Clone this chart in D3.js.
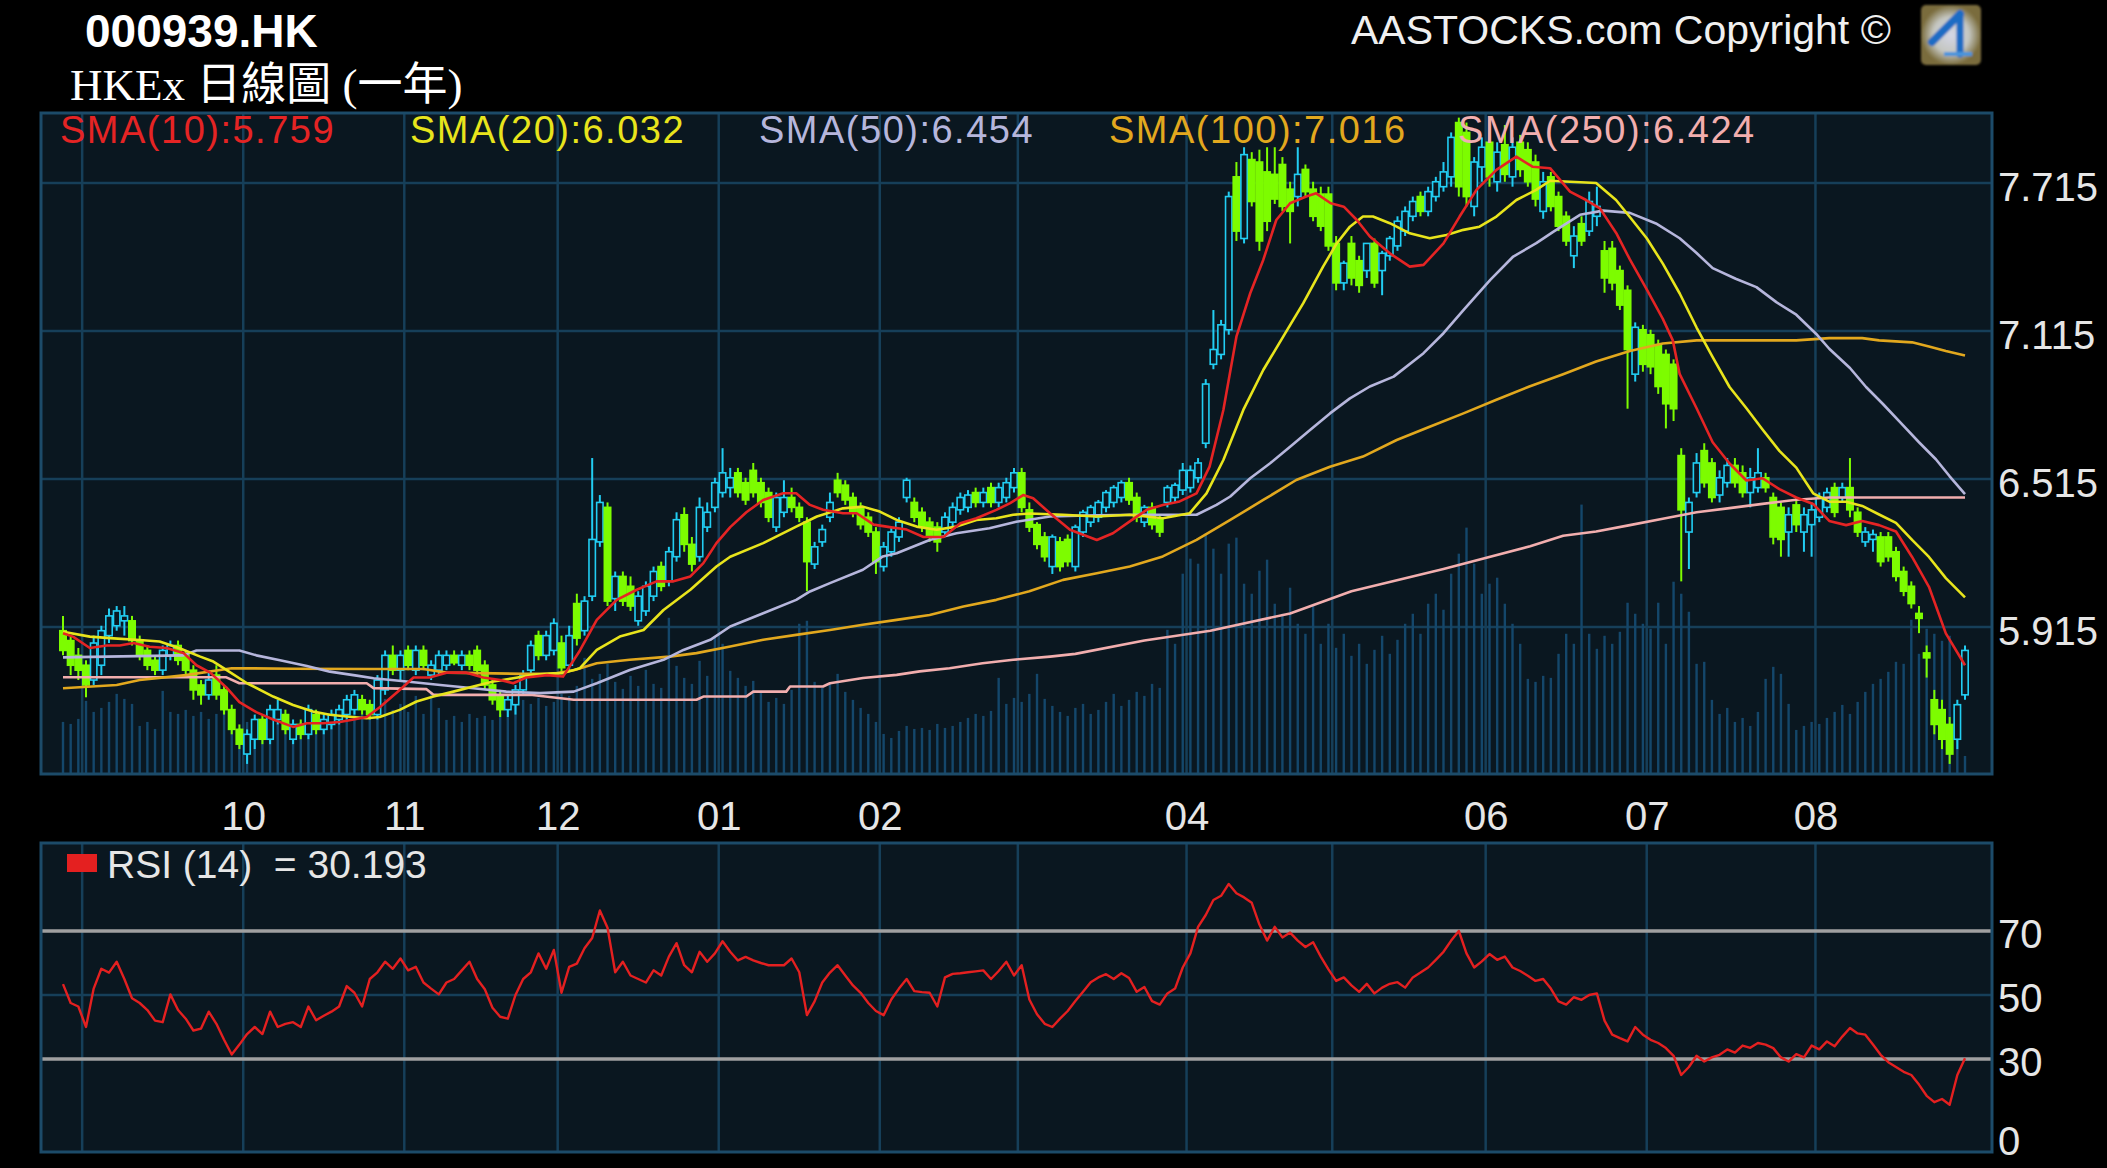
<!DOCTYPE html>
<html>
<head>
<meta charset="utf-8">
<script src="https://cdn.jsdelivr.net/npm/d3@7"></script>
<style>
  html, body { margin: 0; padding: 0; background: #000; }
  svg { display: block; }
  text { font-family: "Liberation Sans", Arial, sans-serif; }
</style>
</head>
<body>
<script>
// ---- data ----
var monthStart  = [3, 24, 45, 65, 86, 107, 125, 147, 166, 186, 207, 229];
var monthLabels = ["", "10", "11", "12", "01", "02", "", "04", "", "06", "07", "08"];
var priceTicks  = [7.715, 7.115, 6.515, 5.915];
var rsiTicks    = [70, 50, 30, 0];

var smaNames = ["SMA(10)", "SMA(20)", "SMA(50)", "SMA(100)", "SMA(250)"];
var smaLast  = ["5.759", "6.032", "6.454", "7.016", "6.424"];
var rsiLast  = "30.193";

// daily candles [open, high, low, close]
var candles = [
  [5.90,5.96,5.80,5.82],[5.86,5.88,5.72,5.76],[5.80,5.83,5.70,5.74],[5.76,5.78,5.63,5.68],[5.70,5.88,5.68,5.85],
  [5.76,5.92,5.72,5.90],[5.88,5.99,5.85,5.96],[5.92,6.00,5.90,5.98],[5.94,6.00,5.88,5.96],[5.94,5.96,5.84,5.86],
  [5.86,5.88,5.78,5.80],[5.82,5.84,5.74,5.76],[5.78,5.80,5.72,5.74],[5.74,5.84,5.72,5.82],[5.80,5.86,5.78,5.84],
  [5.84,5.86,5.76,5.78],[5.80,5.82,5.72,5.74],[5.74,5.76,5.62,5.66],[5.68,5.70,5.60,5.64],[5.64,5.74,5.62,5.70],
  [5.72,5.76,5.62,5.64],[5.66,5.68,5.56,5.58],[5.58,5.60,5.48,5.50],[5.50,5.52,5.42,5.44],[5.40,5.50,5.36,5.48],
  [5.46,5.56,5.42,5.54],[5.54,5.56,5.44,5.46],[5.46,5.60,5.44,5.58],[5.54,5.62,5.52,5.58],[5.56,5.58,5.48,5.50],
  [5.46,5.54,5.44,5.52],[5.52,5.54,5.46,5.48],[5.48,5.60,5.46,5.58],[5.56,5.58,5.48,5.50],[5.50,5.56,5.48,5.54],
  [5.52,5.58,5.50,5.56],[5.54,5.60,5.52,5.58],[5.56,5.64,5.54,5.62],[5.58,5.66,5.56,5.64],[5.62,5.64,5.56,5.58],
  [5.60,5.62,5.54,5.56],[5.56,5.72,5.54,5.70],[5.66,5.82,5.64,5.80],[5.80,5.84,5.72,5.74],[5.74,5.82,5.70,5.80],
  [5.82,5.84,5.74,5.76],[5.74,5.84,5.72,5.82],[5.82,5.84,5.74,5.76],[5.72,5.78,5.70,5.76],[5.74,5.82,5.72,5.80],
  [5.76,5.82,5.74,5.80],[5.80,5.82,5.76,5.77],[5.76,5.82,5.74,5.80],[5.80,5.82,5.74,5.76],[5.82,5.84,5.72,5.74],
  [5.76,5.78,5.66,5.68],[5.68,5.70,5.60,5.62],[5.64,5.66,5.55,5.58],[5.58,5.64,5.55,5.62],[5.60,5.68,5.56,5.66],
  [5.66,5.74,5.64,5.72],[5.74,5.86,5.72,5.84],[5.88,5.90,5.78,5.80],[5.80,5.90,5.78,5.88],[5.82,5.95,5.80,5.93],
  [5.85,5.88,5.73,5.75],[5.76,5.92,5.74,5.88],[6.01,6.05,5.84,5.87],[5.90,6.04,5.88,6.02],[6.04,6.60,6.02,6.27],
  [6.26,6.45,6.24,6.42],[6.40,6.42,6.00,6.02],[6.03,6.14,5.98,6.12],[6.12,6.14,6.00,6.02],[6.08,6.12,5.98,6.00],
  [5.94,6.06,5.92,6.04],[5.98,6.10,5.96,6.08],[6.04,6.16,6.02,6.14],[6.16,6.18,6.06,6.08],[6.10,6.24,6.08,6.22],
  [6.20,6.38,6.18,6.35],[6.37,6.40,6.22,6.25],[6.25,6.28,6.14,6.17],[6.20,6.44,6.18,6.40],[6.32,6.42,6.30,6.38],
  [6.40,6.52,6.38,6.50],[6.46,6.64,6.44,6.54],[6.48,6.56,6.44,6.52],[6.54,6.56,6.44,6.46],[6.50,6.52,6.41,6.43],
  [6.55,6.58,6.44,6.46],[6.50,6.52,6.40,6.42],[6.46,6.48,6.34,6.36],[6.32,6.46,6.30,6.44],[6.38,6.51,6.36,6.44],
  [6.44,6.48,6.38,6.40],[6.40,6.42,6.34,6.36],[6.34,6.36,6.06,6.18],[6.17,6.26,6.15,6.24],[6.26,6.33,6.24,6.31],
  [6.36,6.46,6.34,6.42],[6.51,6.54,6.44,6.46],[6.49,6.51,6.41,6.43],[6.44,6.46,6.36,6.38],[6.40,6.42,6.31,6.33],
  [6.36,6.38,6.28,6.30],[6.30,6.32,6.13,6.18],[6.16,6.26,6.14,6.24],[6.22,6.32,6.20,6.30],[6.28,6.36,6.26,6.34],
  [6.44,6.52,6.42,6.51],[6.42,6.44,6.34,6.36],[6.38,6.40,6.30,6.32],[6.34,6.36,6.26,6.28],[6.32,6.34,6.22,6.26],
  [6.30,6.38,6.28,6.36],[6.34,6.42,6.32,6.40],[6.39,6.46,6.37,6.44],[6.40,6.47,6.38,6.45],[6.46,6.48,6.40,6.42],
  [6.42,6.48,6.40,6.46],[6.48,6.50,6.40,6.42],[6.42,6.50,6.40,6.48],[6.44,6.52,6.42,6.50],[6.48,6.56,6.46,6.54],
  [6.54,6.56,6.38,6.40],[6.39,6.42,6.30,6.32],[6.33,6.34,6.23,6.25],[6.28,6.30,6.18,6.20],[6.16,6.29,6.13,6.28],
  [6.26,6.28,6.14,6.16],[6.27,6.29,6.16,6.18],[6.16,6.33,6.14,6.32],[6.30,6.39,6.28,6.38],[6.34,6.41,6.32,6.40],
  [6.36,6.43,6.34,6.42],[6.40,6.47,6.38,6.46],[6.42,6.49,6.40,6.48],[6.44,6.51,6.42,6.50],[6.50,6.52,6.41,6.43],
  [6.44,6.46,6.34,6.36],[6.34,6.41,6.32,6.40],[6.40,6.42,6.31,6.33],[6.35,6.37,6.28,6.30],[6.42,6.49,6.40,6.48],
  [6.44,6.50,6.42,6.49],[6.47,6.58,6.45,6.55],[6.48,6.57,6.46,6.55],[6.52,6.60,6.50,6.58],[6.66,6.92,6.64,6.90],
  [6.98,7.20,6.96,7.04],[7.02,7.16,7.00,7.14],[7.12,7.68,7.10,7.66],[7.74,7.80,7.48,7.52],[7.49,7.86,7.47,7.83],
  [7.81,7.84,7.62,7.64],[7.80,7.85,7.44,7.48],[7.76,7.86,7.52,7.56],[7.75,7.86,7.63,7.65],[7.79,7.82,7.60,7.62],
  [7.69,7.72,7.47,7.60],[7.66,7.86,7.62,7.75],[7.77,7.79,7.66,7.68],[7.69,7.72,7.56,7.58],[7.67,7.70,7.52,7.54],
  [7.67,7.70,7.44,7.46],[7.47,7.50,7.28,7.31],[7.31,7.40,7.28,7.39],[7.47,7.50,7.30,7.33],[7.40,7.42,7.27,7.30],
  [7.36,7.47,7.33,7.47],[7.47,7.49,7.29,7.31],[7.36,7.44,7.26,7.43],[7.42,7.50,7.40,7.49],[7.46,7.58,7.44,7.56],
  [7.52,7.62,7.50,7.60],[7.58,7.66,7.56,7.64],[7.66,7.68,7.58,7.60],[7.60,7.70,7.58,7.68],[7.66,7.74,7.64,7.72],
  [7.70,7.80,7.68,7.76],[7.74,7.92,7.70,7.90],[7.96,7.98,7.66,7.70],[7.92,7.96,7.62,7.66],[7.62,7.82,7.58,7.80],
  [7.78,7.90,7.72,7.86],[7.88,7.92,7.70,7.74],[7.72,7.88,7.68,7.84],[7.87,7.95,7.72,7.75],[7.74,7.90,7.70,7.86],
  [7.88,7.91,7.74,7.77],[7.85,7.88,7.70,7.72],[7.80,7.83,7.62,7.65],[7.60,7.76,7.57,7.72],[7.74,7.76,7.60,7.62],
  [7.66,7.68,7.52,7.54],[7.58,7.60,7.46,7.48],[7.42,7.54,7.37,7.50],[7.55,7.58,7.46,7.48],[7.52,7.68,7.50,7.64],
  [7.58,7.70,7.54,7.62],[7.44,7.48,7.27,7.33],[7.45,7.48,7.28,7.31],[7.36,7.38,7.20,7.22],[7.28,7.30,6.80,7.04],
  [6.94,7.15,6.91,7.13],[7.12,7.14,6.95,6.98],[7.10,7.12,6.94,6.97],[7.06,7.08,6.86,6.89],[7.02,7.04,6.72,6.82],
  [6.98,7.00,6.75,6.80],[6.61,6.64,6.10,6.39],[6.30,6.44,6.15,6.42],[6.46,6.62,6.44,6.58],[6.63,6.66,6.48,6.50],
  [6.58,6.60,6.42,6.44],[6.45,6.55,6.42,6.52],[6.50,6.60,6.48,6.57],[6.57,6.60,6.48,6.50],[6.54,6.57,6.44,6.46],
  [6.46,6.56,6.40,6.52],[6.48,6.64,6.46,6.54],[6.52,6.54,6.46,6.48],[6.44,6.46,6.25,6.28],[6.40,6.42,6.20,6.27],
  [6.30,6.40,6.20,6.37],[6.41,6.44,6.30,6.33],[6.30,6.40,6.22,6.37],[6.33,6.42,6.20,6.39],[6.36,6.46,6.34,6.44],
  [6.40,6.48,6.38,6.46],[6.48,6.50,6.36,6.38],[6.44,6.50,6.42,6.48],[6.48,6.60,6.36,6.39],[6.38,6.40,6.28,6.30],
  [6.26,6.32,6.24,6.30],[6.27,6.31,6.22,6.29],[6.28,6.30,6.16,6.18],[6.28,6.30,6.18,6.20],[6.22,6.24,6.10,6.12],
  [6.14,6.16,6.04,6.06],[6.08,6.10,5.99,6.01],[5.97,6.00,5.89,5.95],[5.81,5.84,5.71,5.79],[5.62,5.66,5.48,5.52],
  [5.58,5.62,5.42,5.46],[5.52,5.55,5.36,5.40],[5.46,5.62,5.42,5.60],[5.64,5.84,5.62,5.82]
];

// volume, relative bar heights
var volume = [
  52,50,55,73,62,66,72,80,75,70, 48,52,45,83,62,60,64,58,62,55,
  60,64,50,46,52,55,48,45,50,58, 46,52,55,60,48,56,58,62,68,60,
  66,72,75,64,70,62,78,60,82,66, 54,58,52,60,56,58,54,60,66,70,
  74,70,76,68,72,80,78,88,116,95, 100,110,92,85,98,88,104,90,86,156,
  108,96,90,113,98,136,130,103,96,88, 93,82,72,76,70,84,150,153,92,86,
  90,100,82,74,66,60,52,40,36,43, 48,45,46,44,50,46,48,52,56,60,
  58,63,96,70,76,72,80,100,75,68, 62,58,66,70,60,64,72,80,68,74,
  82,78,90,86,144,130,200,215,210,240, 225,200,230,236,190,180,203,214,170,160,
  186,150,140,168,130,150,126,140,118,130, 110,124,138,120,134,150,160,140,170,180,
  164,200,220,246,210,180,190,196,170,150, 130,95,92,98,96,120,140,130,269,140,
  125,138,130,142,171,160,150,145,171,130, 192,180,162,110,112,74,60,66,52,56,
  48,62,95,107,100,70,44,48,52,50, 56,62,69,60,72,82,90,95,102,112,
  110,154,120,145,140,133,138,60,18
];

// RSI(14), one value per day
var rsi14 = [
  53.4,47.5,46.4,40.0,52.0,58.2,57.0,60.4,55.0,49.0, 47.5,45.3,42.0,41.5,50.2,45.3,42.6,38.9,39.5,44.8,
  41.0,36.0,31.4,34.5,37.8,40.0,37.8,44.8,40.0,41.0, 41.5,40.0,46.4,42.1,43.5,44.8,46.4,52.8,50.7,46.4,
  55.0,57.1,60.4,58.2,61.4,57.7,58.8,53.9,52.0,50.2, 53.9,55.0,57.7,60.4,55.0,51.8,46.0,43.2,42.6,50.0,
  55.0,57.1,63.0,58.2,64.1,50.7,58.8,59.8,64.6,67.8, 76.4,71.0,57.1,60.4,56.1,55.0,53.9,57.7,56.1,62.0,
  66.2,59.3,57.1,63.5,60.4,63.0,66.8,63.5,60.8,61.9, 60.8,60.0,59.3,59.3,59.3,61.4,57.1,43.7,48.0,53.9,
  57.0,59.3,56.1,53.0,50.7,47.5,45.0,43.7,48.6,52.0, 55.0,51.2,50.9,50.7,46.4,55.5,56.6,56.8,57.1,57.4,
  57.7,55.0,57.5,60.4,56.1,59.3,48.6,44.0,41.0,40.0, 42.6,45.0,48.1,51.0,54.0,55.5,56.5,55.0,56.8,55.3,
  51.0,52.5,48.1,47.0,50.5,52.0,58.6,63.0,71.3,75.0, 79.7,81.0,84.7,81.8,80.5,78.8,72.0,67.0,71.3,68.0,
  69.5,67.0,65.0,66.5,62.0,58.0,54.4,55.5,53.0,51.0, 53.5,50.5,52.3,53.5,54.0,52.3,55.5,57.0,58.6,61.0,
  63.5,67.0,70.0,63.0,58.6,60.5,62.8,61.0,62.0,58.6, 57.5,56.0,54.4,55.0,52.0,48.0,47.0,49.3,48.5,50.0,
  50.5,42.0,37.6,36.5,35.5,40.0,37.6,36.0,35.0,33.4, 31.0,25.0,27.5,31.0,29.2,30.5,31.3,33.0,32.0,34.2,
  33.5,35.0,34.5,33.4,30.5,29.2,31.5,30.5,34.2,33.0, 35.5,34.0,37.0,39.7,38.0,37.6,34.5,31.3,29.0,27.5,
  26.0,25.0,22.0,18.5,16.5,17.5,15.7,25.0,30.2
];

// moving averages as [day, value]
var sma10 = [[0,5.89],[1.3,5.876],[3.5,5.83],[5.7,5.84],[7.4,5.84],[9.2,5.85],[11.3,5.835],[13.5,5.83],[15.7,5.81],[17.4,5.76],[19.2,5.73],[21.3,5.67],[23,5.61],[25.2,5.57],[27.4,5.54],[30,5.51],[31.8,5.525],[33.9,5.525],[36.1,5.53],[37.9,5.54],[39.6,5.55],[41.3,5.59],[43.9,5.66],[45.7,5.71],[47.8,5.71],[50,5.73],[52.6,5.73],[54.8,5.71],[57,5.70],[58.7,5.687],[60.4,5.71],[63.1,5.72],[65.2,5.714],[67.4,5.82],[69.6,5.944],[72.2,6.025],[74.8,6.066],[77.4,6.10],[79.6,6.10],[81.8,6.12],[83.5,6.174],[85.2,6.255],[87,6.32],[89.1,6.38],[91.3,6.43],[93.9,6.457],[95.6,6.457],[97.4,6.41],[99.1,6.39],[101.7,6.376],[103.5,6.376],[105.7,6.33],[107.8,6.32],[110,6.31],[112.2,6.28],[114.8,6.28],[117,6.336],[119.1,6.356],[121.7,6.39],[123.5,6.417],[125.2,6.45],[126.5,6.437],[128.7,6.376],[131.3,6.309],[134.8,6.268],[136.9,6.295],[139.1,6.343],[141.3,6.39],[143.4,6.41],[145.6,6.424],[147.8,6.457],[149.5,6.565],[151.3,6.795],[153,7.092],[154.8,7.268],[156.5,7.403],[158.2,7.565],[160,7.633],[162.1,7.66],[163.4,7.673],[165.3,7.633],[167,7.619],[168.7,7.565],[170.4,7.498],[173,7.43],[175.6,7.376],[177.4,7.383],[180,7.47],[182.1,7.579],[184.3,7.687],[186.9,7.768],[189.5,7.822],[191.6,7.781],[193.9,7.775],[196.5,7.68],[198.6,7.646],[200.4,7.612],[202.6,7.508],[204.3,7.405],[206.5,7.284],[208.6,7.164],[209.9,7.077],[210.8,6.94],[213,6.802],[215.1,6.664],[217.3,6.578],[219.5,6.509],[221.6,6.518],[223.8,6.474],[226,6.44],[228.2,6.414],[230.3,6.345],[232.5,6.328],[234.6,6.345],[236.8,6.328],[239,6.302],[241.1,6.199],[243.3,6.078],[245.5,5.889],[248,5.76]];
var sma20 = [[0,5.896],[3.5,5.876],[6.6,5.869],[10,5.862],[12.6,5.856],[15.2,5.829],[17.9,5.795],[19.6,5.775],[21.3,5.741],[24,5.687],[27.4,5.633],[30,5.599],[32.6,5.572],[34.8,5.559],[37,5.552],[39.6,5.545],[41.3,5.55],[43.9,5.579],[46.1,5.613],[48.3,5.633],[50.9,5.653],[53.5,5.674],[56.1,5.694],[58.7,5.707],[61.3,5.721],[63.9,5.727],[65.2,5.728],[67.4,5.748],[69.6,5.822],[72.6,5.876],[75.7,5.903],[78.3,5.984],[81.8,6.066],[85.2,6.16],[87,6.20],[91.3,6.255],[95.6,6.322],[98.3,6.363],[101.7,6.396],[104.3,6.403],[106.5,6.383],[108.7,6.349],[111.3,6.322],[113.9,6.309],[116.5,6.322],[119.1,6.349],[121.7,6.356],[123.9,6.37],[126.1,6.375],[130.4,6.37],[134.8,6.363],[139.1,6.37],[143.4,6.356],[146.9,6.376],[149.1,6.457],[151.3,6.592],[153.9,6.795],[156.5,6.957],[159.1,7.092],[161.7,7.227],[164.3,7.376],[166.1,7.471],[167.8,7.538],[169.5,7.579],[170.8,7.579],[173,7.552],[175.6,7.511],[178.2,7.491],[180.4,7.504],[182.6,7.525],[184.7,7.538],[186.9,7.579],[189.5,7.646],[192.1,7.687],[193.9,7.724],[196.5,7.72],[199.9,7.715],[202.5,7.646],[204.3,7.577],[206.5,7.491],[208.6,7.388],[210.8,7.267],[213,7.129],[215.1,7.009],[217.3,6.888],[219.5,6.802],[221.6,6.716],[223.8,6.629],[226,6.561],[228.2,6.457],[230.3,6.423],[232.5,6.423],[234.6,6.406],[236.8,6.371],[239,6.337],[241.1,6.268],[243.3,6.199],[245.5,6.113],[248,6.035]];
var sma50 = [[0,5.792],[5.7,5.795],[15.7,5.80],[17.4,5.82],[23,5.82],[25.2,5.80],[28.3,5.78],[31.8,5.757],[34.8,5.734],[38.3,5.718],[40.5,5.707],[44.8,5.694],[49.2,5.68],[53.5,5.667],[57.8,5.653],[62.2,5.647],[66.6,5.653],[69.6,5.687],[73.9,5.741],[78.3,5.782],[80.9,5.822],[84.4,5.863],[87,5.917],[91.3,5.971],[95.6,6.025],[97.4,6.059],[100,6.093],[104.3,6.147],[106.9,6.201],[108.7,6.214],[113,6.268],[116.5,6.295],[120.8,6.315],[124.3,6.342],[128.7,6.363],[134.8,6.368],[141,6.37],[147.8,6.37],[150.4,6.41],[152.2,6.444],[154.8,6.518],[157.4,6.579],[160,6.646],[162.6,6.714],[165.2,6.781],[167.8,6.842],[170.4,6.89],[173.5,6.93],[177.4,7.025],[180,7.106],[182.6,7.2],[186.1,7.322],[189.1,7.417],[192.1,7.471],[194.3,7.517],[197.8,7.586],[200.8,7.603],[204.3,7.594],[207.7,7.551],[210.8,7.491],[213,7.431],[215.1,7.37],[218.1,7.327],[220.8,7.293],[223.4,7.232],[226,7.181],[228.6,7.103],[230.3,7.043],[233,6.965],[235.1,6.888],[237.3,6.819],[239.9,6.733],[242,6.664],[244.2,6.595],[246,6.526],[248,6.454]];
var sma100 = [[0,5.667],[7,5.68],[10,5.70],[16,5.72],[22,5.748],[30,5.746],[40,5.745],[47,5.745],[50,5.73],[60,5.725],[64,5.725],[66.7,5.741],[69.6,5.768],[73.9,5.782],[79.1,5.795],[82.6,5.809],[87,5.836],[91.3,5.863],[95.6,5.883],[100,5.903],[104.3,5.924],[108.7,5.944],[113,5.964],[117.4,5.998],[121.7,6.025],[126,6.06],[130.4,6.106],[134.8,6.133],[139.1,6.16],[143.4,6.201],[147.8,6.268],[152.2,6.349],[156.5,6.43],[160.8,6.511],[165.2,6.565],[169.5,6.606],[173.9,6.673],[178.2,6.727],[182.6,6.781],[186.9,6.836],[191.2,6.89],[195.6,6.94],[199.9,6.991],[204.3,7.034],[208.6,7.064],[213,7.077],[217.3,7.077],[221.6,7.077],[226,7.077],[230.3,7.086],[234.6,7.086],[236.8,7.077],[241.1,7.069],[243.3,7.052],[245.5,7.034],[248,7.016]];
var sma250 = [[0,5.711],[21.3,5.711],[23,5.687],[39.6,5.687],[40.5,5.667],[47.4,5.663],[48.3,5.64],[60.9,5.64],[66.6,5.62],[82.6,5.62],[83.5,5.633],[89.1,5.633],[90,5.653],[94.3,5.653],[94.8,5.674],[99.1,5.674],[100,5.687],[104.3,5.708],[108.7,5.721],[111.7,5.735],[115.6,5.748],[119.9,5.768],[123.9,5.782],[128.7,5.795],[132,5.806],[141,5.86],[149.6,5.90],[160,5.97],[168,6.06],[180,6.15],[191.3,6.242],[195.6,6.285],[199.9,6.302],[204.3,6.328],[208.6,6.354],[213,6.38],[217.3,6.397],[221.6,6.414],[226,6.431],[230.3,6.44],[248,6.44]];

// ---- layout ----
var W = 2107, H = 1168;
var main = { left: 41, right: 1992, top: 113, bottom: 774 };
var low  = { left: 41, right: 1992, top: 843, bottom: 1152 };

var colors = {
  panel: "#0a1720", grid: "#163f59", border: "#1c4b69",
  up: "#22cdf2", down: "#7dfc00", vol: "#14476b",
  sma: ["#e52424", "#e8e41c", "#b6b6dc", "#e2a81e", "#f2aeae"],
  rsi: "#e42020", level: "#a0a0a0", text: "#e6e6e6"
};

var x = d3.scaleLinear().domain([0, candles.length - 1]).range([63, 1965]);
var y = d3.scaleLinear().domain([5.915, 7.715]).range([627, 183]);
var yVol = d3.scaleLinear().domain([0, 660]).range([main.bottom, main.top]);
var yRsi = d3.scaleLinear().domain([0, 100]).range([1155, 835]);

var svg = d3.select("body").append("svg")
            .attr("width", W)
            .attr("height", H);

svg.append("rect").attr("width", W).attr("height", H).attr("fill", "#000");

var defs = svg.append("defs");
defs.append("clipPath").attr("id", "clipMain")
    .append("rect")
    .attr("x", main.left).attr("y", main.top)
    .attr("width", main.right - main.left).attr("height", main.bottom - main.top);
defs.append("clipPath").attr("id", "clipLow")
    .append("rect")
    .attr("x", low.left).attr("y", low.top)
    .attr("width", low.right - low.left).attr("height", low.bottom - low.top);
var lg = defs.append("radialGradient").attr("id", "logoGlow");
lg.append("stop").attr("offset", "0%").attr("stop-color", "#d4d6e6");
lg.append("stop").attr("offset", "60%").attr("stop-color", "#c4c6c0");
lg.append("stop").attr("offset", "100%").attr("stop-color", "#7a6c3c");
defs.append("filter").attr("id", "soft")
    .append("feGaussianBlur").attr("stdDeviation", 1.2);

// ---- header ----
svg.append("text").attr("x", 85).attr("y", 47)
   .attr("fill", "#fff").attr("font-size", 46).attr("font-weight", "bold")
   .text("000939.HK");
svg.append("text").attr("x", 70).attr("y", 100)
   .attr("fill", "#fff").attr("font-size", 45)
   .style("font-family", "'Liberation Serif', 'Noto Sans CJK TC', serif")
   .text("HKEx 日線圖 (一年)");
svg.append("text").attr("x", 1351).attr("y", 44)
   .attr("fill", "#f0f0f0").attr("font-size", 41)
   .text("AASTOCKS.com Copyright ©");

var logo = svg.append("g").attr("filter", "url(#soft)");
logo.append("rect").attr("x", 1921).attr("y", 5).attr("width", 60).attr("height", 60)
    .attr("rx", 5).attr("fill", "url(#logoGlow)");
logo.append("path").attr("d", "M1960,14 L1932,42").attr("stroke", "#1f6cc4")
    .attr("stroke-width", 8).attr("stroke-linecap", "round");
logo.append("path").attr("d", "M1960,14 L1960,54").attr("stroke", "#1f6cc4")
    .attr("stroke-width", 7).attr("stroke-linecap", "round");
logo.append("path").attr("d", "M1944,54 L1972,54").attr("stroke", "#4a94dc")
    .attr("stroke-width", 4);

// ---- panels ----
function panel(p, clipId) {
  svg.append("rect")
     .attr("x", p.left).attr("y", p.top)
     .attr("width", p.right - p.left).attr("height", p.bottom - p.top)
     .attr("fill", colors.panel);
  var g = svg.append("g").attr("clip-path", "url(#" + clipId + ")");
  g.selectAll("line.vgrid")
   .data(monthStart)
   .enter().append("line")
   .attr("class", "vgrid")
   .attr("x1", function(d){ return x(d - 0.5); })
   .attr("x2", function(d){ return x(d - 0.5); })
   .attr("y1", p.top).attr("y2", p.bottom)
   .attr("stroke", colors.grid).attr("stroke-width", 2.5);
  return g;
}

var gMain = panel(main, "clipMain");
gMain.selectAll("line.hgrid")
     .data(priceTicks)
     .enter().append("line")
     .attr("class", "hgrid")
     .attr("x1", main.left).attr("x2", main.right)
     .attr("y1", function(d){ return y(d); })
     .attr("y2", function(d){ return y(d); })
     .attr("stroke", colors.grid).attr("stroke-width", 2.5);

// volume
gMain.selectAll("rect.vol")
     .data(volume)
     .enter().append("rect")
     .attr("class", "vol")
     .attr("x", function(d, i){ return x(i) - 1.2; })
     .attr("width", 2.4)
     .attr("y", function(d){ return yVol(d); })
     .attr("height", function(d){ return main.bottom - yVol(d); })
     .attr("fill", colors.vol);

// candles
var bodyW = 6.4;
var cg = gMain.selectAll("g.candle")
     .data(candles)
     .enter().append("g")
     .attr("class", "candle");
cg.append("line")
  .attr("x1", function(d, i){ return x(i); })
  .attr("x2", function(d, i){ return x(i); })
  .attr("y1", function(d){ return y(d[1]); })
  .attr("y2", function(d){ return y(d[2]); })
  .attr("stroke", function(d){ return d[3] >= d[0] ? colors.up : colors.down; })
  .attr("stroke-width", 2);
cg.append("rect")
  .attr("x", function(d, i){ return x(i) - bodyW / 2; })
  .attr("width", bodyW)
  .attr("y", function(d){ return y(Math.max(d[0], d[3])); })
  .attr("height", function(d){ return Math.max(2, Math.abs(y(d[0]) - y(d[3]))); })
  .attr("fill", function(d){ return d[3] >= d[0] ? colors.panel : colors.down; })
  .attr("stroke", function(d){ return d[3] >= d[0] ? colors.up : colors.down; })
  .attr("stroke-width", 1.6);

// moving averages
var smaLine = d3.line()
  .x(function(d){ return x(d[0]); })
  .y(function(d){ return y(d[1]); });
var smaSeries = [sma10, sma20, sma50, sma100, sma250];
[4, 3, 2, 1, 0].forEach(function(k){
  gMain.append("path")
       .datum(smaSeries[k])
       .attr("d", smaLine)
       .attr("fill", "none")
       .attr("stroke", colors.sma[k])
       .attr("stroke-width", 2.6)
       .attr("stroke-linejoin", "round");
});

// legend
var legendX = [60, 410, 759, 1109, 1458];
svg.selectAll("text.smaLegend")
   .data(smaNames)
   .enter().append("text")
   .attr("class", "smaLegend")
   .attr("x", function(d, i){ return legendX[i]; })
   .attr("y", 143)
   .attr("font-size", 38)
   .attr("letter-spacing", 1.5)
   .attr("fill", function(d, i){ return colors.sma[i]; })
   .text(function(d, i){ return d + ":" + smaLast[i]; });

svg.append("rect")
   .attr("x", main.left).attr("y", main.top)
   .attr("width", main.right - main.left).attr("height", main.bottom - main.top)
   .attr("fill", "none").attr("stroke", colors.border).attr("stroke-width", 3);

// price axis
var priceAxis = d3.axisRight(y).tickValues(priceTicks).tickSize(0).tickPadding(0)
  .tickFormat(d3.format(".3f"));
var pa = svg.append("g").attr("transform", "translate(1998,5)").call(priceAxis);
pa.select(".domain").remove();
pa.selectAll("text").attr("fill", colors.text).attr("font-size", 40)
  .style("font-family", "'Liberation Sans', Arial, sans-serif");

// month axis
var monthAxis = d3.axisBottom(x)
  .tickValues(monthStart.map(function(d){ return d - 0.5; }))
  .tickSize(0).tickPadding(0)
  .tickFormat(function(d, i){ return monthLabels[i]; });
var ma = svg.append("g").attr("transform", "translate(0,802)").call(monthAxis);
ma.select(".domain").remove();
ma.selectAll("text").attr("fill", colors.text).attr("font-size", 40)
  .style("font-family", "'Liberation Sans', Arial, sans-serif");

// ---- RSI panel ----
var gLow = panel(low, "clipLow");
gLow.append("line")
    .attr("x1", low.left).attr("x2", low.right)
    .attr("y1", yRsi(50)).attr("y2", yRsi(50))
    .attr("stroke", colors.grid).attr("stroke-width", 2.5);
gLow.selectAll("line.level")
    .data([70, 30])
    .enter().append("line")
    .attr("class", "level")
    .attr("x1", low.left).attr("x2", low.right)
    .attr("y1", function(d){ return yRsi(d); })
    .attr("y2", function(d){ return yRsi(d); })
    .attr("stroke", colors.level).attr("stroke-width", 3.5);

gLow.append("path")
    .datum(rsi14)
    .attr("d", d3.line()
      .x(function(d, i){ return x(i); })
      .y(function(d){ return yRsi(d); }))
    .attr("fill", "none")
    .attr("stroke", colors.rsi)
    .attr("stroke-width", 2.4)
    .attr("stroke-linejoin", "round");

svg.append("rect").attr("x", 67).attr("y", 854).attr("width", 30).attr("height", 18)
   .attr("fill", colors.rsi);
svg.append("text").attr("x", 107).attr("y", 878)
   .attr("fill", colors.text).attr("font-size", 39)
   .style("white-space", "pre")
   .text("RSI (14)  = " + rsiLast);

svg.append("rect")
   .attr("x", low.left).attr("y", low.top)
   .attr("width", low.right - low.left).attr("height", low.bottom - low.top)
   .attr("fill", "none").attr("stroke", colors.border).attr("stroke-width", 3);

var rsiAxis = d3.axisRight(yRsi).tickValues(rsiTicks).tickSize(0).tickPadding(0)
  .tickFormat(d3.format("d"));
var ra = svg.append("g").attr("transform", "translate(1998,4)").call(rsiAxis);
ra.select(".domain").remove();
ra.selectAll("text").attr("fill", colors.text).attr("font-size", 40)
  .style("font-family", "'Liberation Sans', Arial, sans-serif");
// keep the bottom label inside the picture
ra.selectAll(".tick").filter(function(d){ return d === 0; })
  .select("text").attr("dy", "-0.12em");
</script>
</body>
</html>
